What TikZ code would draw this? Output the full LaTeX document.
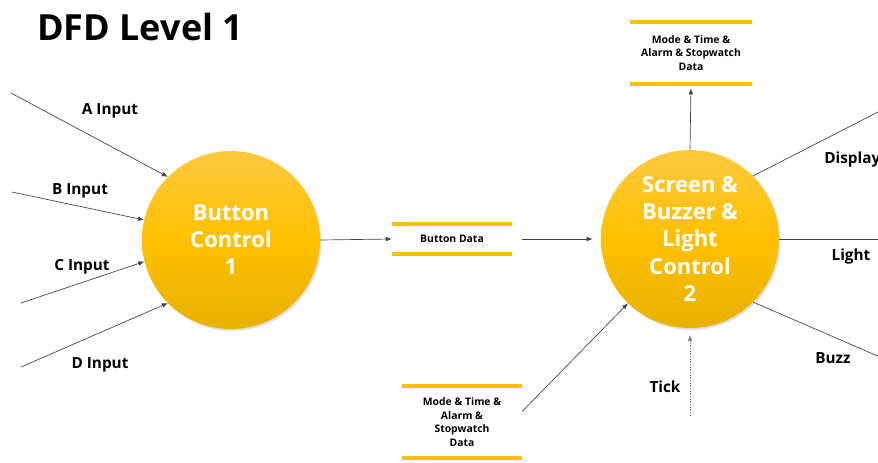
\documentclass[tikz,border=0pt]{standalone}
\usepackage{fontspec}
\setmainfont{Open Sans}
\usetikzlibrary{arrows.meta,shadows}
\definecolor{gold}{HTML}{FFC000}
\definecolor{goldtop}{HTML}{FFC93E}
\definecolor{goldbot}{HTML}{E8B000}
\definecolor{linegray}{HTML}{404040}
\tikzset{
  proc/.style={circle, minimum size=133.5pt, inner sep=0pt, align=center,
    top color=goldtop, bottom color=goldbot, middle color=gold,
    drop shadow={shadow xshift=1pt, shadow yshift=-1.5pt, opacity=0.25},
    text=white, font=\fontsize{16.5}{20.3}\selectfont\bfseries},
  store/.style={inner sep=0pt, align=center, font=\fontsize{7.8}{10.1}\selectfont\bfseries},
  bar/.style={draw=gold, line width=3pt},
  flow/.style={draw=linegray, line width=0.5pt, -{Latex[length=4.5pt,width=3.5pt]}},
  lbl/.style={font=\fontsize{11.5}{14}\selectfont\bfseries, inner sep=0pt},
}
\begin{document}
\begin{tikzpicture}[x=0.75pt,y=-0.75pt]
\useasboundingbox (0,0) rectangle (878,462);
% title
\node[anchor=base west, inner sep=0pt, font=\fontsize{27}{32}\selectfont\bfseries] (title) at (37,40) {DFD Level 1};
% processes
\node[proc] (bc) at (231,240) {Button\\Control\\1};
\node[proc] (sc) at (690,239) {Screen \&\\Buzzer \&\\Light\\Control\\2};
% stores
\node[store, minimum width=90pt, minimum height=22.5pt] (bd) at (452,239) {Button Data};
\node[store, minimum width=91.5pt, minimum height=46.5pt] (ts) at (691,53) {Mode \& Time \&\\Alarm \& Stopwatch\\Data};
\node[store, minimum width=90pt, minimum height=54pt] (bs) at (462,422) {Mode \& Time \&\\Alarm \&\\Stopwatch\\Data};
\foreach \s in {bd,ts,bs}{
  \draw[bar] (\s.north west) -- (\s.north east);
  \draw[bar] (\s.south west) -- (\s.south east);
}
% free ends
\coordinate (ai) at (11,93);
\coordinate (bi) at (12,192);
\coordinate (ci) at (21,303);
\coordinate (di) at (21,367);
\coordinate (dispo) at (880,111);
\coordinate (lito) at (880,239);
\coordinate (buzo) at (880,357);
\coordinate (ticki) at (690,416);
% flows
\draw[flow] (ai) -- (bc.135);
\draw[flow] (bi) -- (bc.167);
\draw[flow] (ci) -- (bc.194);
\draw[flow] (di) -- (bc.225);
\draw[flow] (bc.east) -- (bd.west);
\draw[flow, shorten <=7.5pt, shorten >=6pt] (bd.east) -- (sc.west);
\draw[flow, shorten >=3pt] (sc.north) -- (ts.south);
\draw[flow] (bs.10) -- (sc.226);
\draw[flow, draw=gray, dash pattern=on 1pt off 1pt, shorten >=5pt] (ticki) -- (sc.south);
\draw[draw=linegray, line width=0.5pt] (sc.45) -- (dispo);
\draw[draw=linegray, line width=0.5pt] (sc.east) -- (lito);
\draw[draw=linegray, line width=0.5pt] (sc.-45) -- (buzo);
% labels
\node[lbl, anchor=base] (la) at (110,114) {A Input};
\node[lbl, anchor=base] (lb) at (80,194) {B Input};
\node[lbl, anchor=base] (lc) at (82,270) {C Input};
\node[lbl, anchor=base] (ld) at (100,368) {D Input};
\node[lbl, anchor=base west] (ldisp) at (824,163) {Display};
\node[lbl, anchor=base] (llight) at (851,260) {Light};
\node[lbl, anchor=base] (lbuzz) at (833,363) {Buzz};
\node[lbl, anchor=base] (ltick) at (665,392) {Tick};
\end{tikzpicture}
\end{document}
